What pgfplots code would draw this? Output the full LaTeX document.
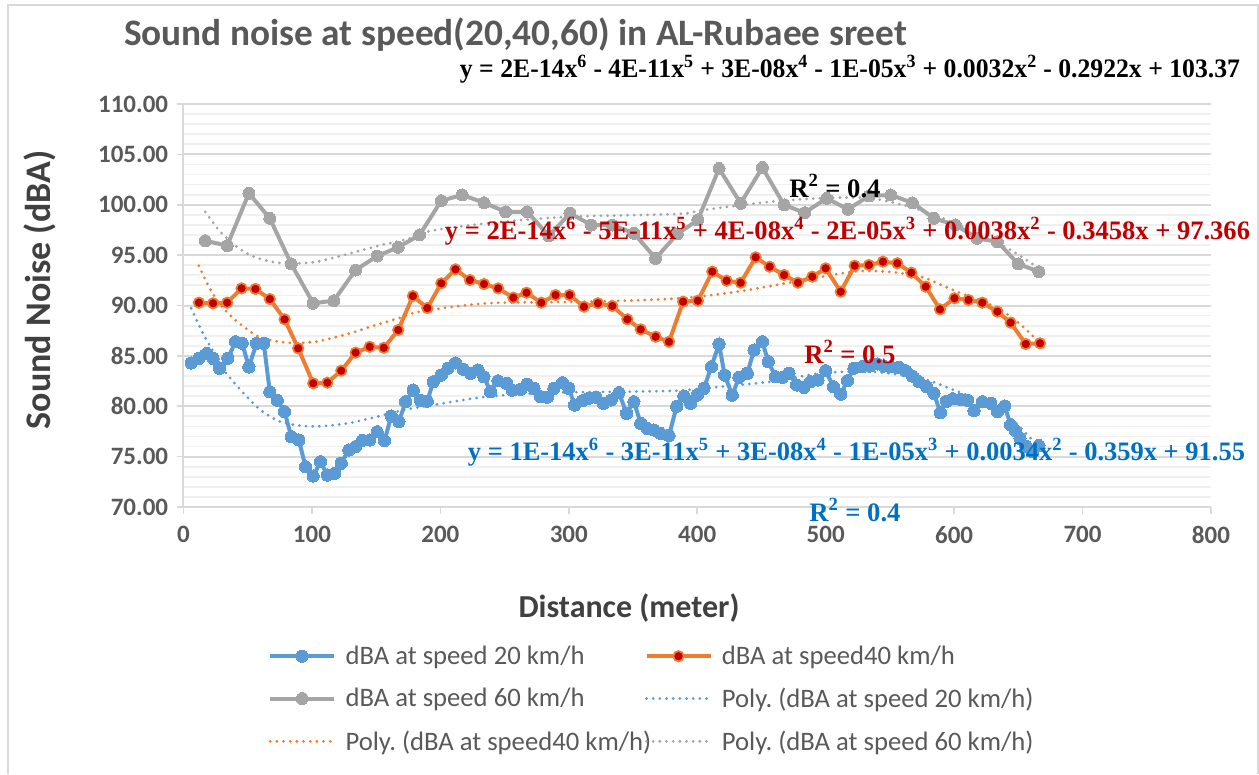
\documentclass[border=0pt]{standalone}
\usepackage{pgfplots}
\pgfplotsset{compat=1.18}
\usepackage{fontspec}
\usepackage{graphicx}
\setmainfont{Carlito}
\newfontfamily\eqfont{Liberation Serif}
\frenchspacing

\definecolor{sblue}{HTML}{5B9BD5}
\definecolor{sorange}{HTML}{ED7D31}
\definecolor{sgray}{HTML}{A5A5A5}
\definecolor{dred}{HTML}{C00000}
\definecolor{eqblue}{HTML}{0070C0}
\definecolor{txtgray}{HTML}{595959}
\definecolor{lblgray}{HTML}{404040}
\definecolor{gridmaj}{HTML}{D9D9D9}
\definecolor{gridmin}{HTML}{F0F0F0}

\pgfplotstableread{
x y
6 84.3
12 84.76
18 85.25
23 84.76
28 83.77
34.5 84.76
40.5 86.4
45.7 86.25
50.9 83.9
56.9 86.25
62.5 86.25
67.2 81.44
73 80.6
78.7 79.46
83.9 76.98
89.8 76.65
95 74
101 73.08
106.7 74.5
112 73.17
117.6 73.34
122.8 74.34
128.7 75.66
134 75.99
139.2 76.6
145 76.65
150.8 77.47
156.5 76.6
161.8 79.03
167.7 78.47
172.9 80.45
178.9 81.6
184.6 80.6
189.8 80.5
194.5 82.44
200.7 83.1
205.9 83.77
211.8 84.3
217.8 83.67
223.5 83.27
229.2 83.6
233.9 82.93
239 81.44
244.8 82.53
251.6 82.28
256 81.6
262.5 81.68
267.7 82.18
272.8 81.78
278 80.95
283.3 80.9
288.4 81.78
295 82.34
300 81.78
304.5 80.12
310.5 80.55
315.7 80.8
321 80.9
326.9 80.3
333 80.62
339 81.35
345 79.3
350.7 80.45
356 78.3
361.1 77.8
366.3 77.64
371.5 77.3
378 77.1
384 80.0
389.6 81.02
394.9 80.3
400 81.1
405.2 81.78
411 83.93
417 86.18
421.3 83.1
427.3 81.1
432.5 82.87
439 83.27
444.2 85.58
450.7 86.4
455.3 84.42
461 82.93
466.3 82.87
471.4 83.27
477.4 82.11
483.1 81.88
488.3 82.44
494 82.6
500 83.53
506 81.94
511.7 81.2
516.9 82.54
522 83.77
528.5 83.93
534.5 84
540.3 84.2
545.4 84
550.6 83.93
557 83.86
562.3 83.53
567.5 83
572.6 82.44
578.7 81.94
584.3 81.28
589.3 79.36
594 80.5
599 80.75
605 80.7
610.5 80.6
615.5 79.56
622 80.45
628.5 80.3
633.7 79.47
639.4 80.03
644 78.14
647.8 77.6
651.3 76.82
655.8 76.05
661 75.5
666 76.1
}\speedA

\pgfplotstableread{
x y
12 90.28
23 90.22
34 90.28
45.2 91.7
56 91.64
67.2 90.64
78.7 88.63
89.3 85.75
101 82.28
112 82.34
122.8 83.53
134 85.32
145 85.9
156 85.8
167.2 87.57
178.6 90.94
189.8 89.75
200.7 92.2
211.8 93.59
223 92.53
234 92.13
245 91.7
256.8 90.78
267.1 91.27
278.6 90.28
289.7 91.04
300.6 91.04
311.8 89.88
322.7 90.22
333.9 89.95
345.6 88.63
356 87.63
367.6 86.9
378 86.4
389 90.38
400.5 90.48
411.7 93.36
422.9 92.46
433.8 92.26
445.5 94.78
456.4 93.85
467.6 93.03
478.4 92.26
489.6 92.86
500 93.69
511.7 91.37
522.6 93.95
533.7 94.02
544.6 94.35
555.8 94.19
566.7 93.26
577.9 91.87
589 89.62
600.3 90.72
611.2 90.55
622 90.28
633.7 89.39
644 88.3
655.8 86.18
666.9 86.25
}\speedB

\pgfplotstableread{
x y
17 96.43
34 95.94
50.9 101.14
67.2 98.65
83.9 94.12
101 90.22
117 90.48
134 93.52
150.8 94.91
167.2 95.78
183.8 97
200.7 100.4
217 100.97
234 100.2
250.8 99.3
267.7 99.3
284.5 96.9
300.9 99.15
317.5 97.99
333.9 97.99
350.7 97.17
367.6 94.68
384.5 97.1
400.5 98.49
417 103.6
433.8 100.14
450.7 103.7
467.6 99.98
483.6 99.21
500.8 100.64
517.4 99.55
533.7 100.87
550.6 100.97
567.5 100.2
584.3 98.65
601 98
618 96.67
633.7 96.33
650 94.12
666 93.36
}\speedC

% trendlines
\pgfplotstableread{
x y
6 89.72
14.5 87.4
21 85.9
31.4 83.6
45.7 81.44
60 79.63
75.5 78.47
93.7 78.04
109 78.04
127.5 78.3
145.6 78.8
171.6 79.63
189.8 80.03
236.5 80.95
288.4 81.35
340.3 81.44
387 81.55
405 81.78
457 82.44
496 83.27
535 83.43
574 82.77
600 81.6
620 80.6
640 79.3
662 76.5
}\trendA

\pgfplotstableread{
x y
12 93.95
19.7 91.87
28.8 90.05
41.8 88.4
57.4 86.97
67.7 86.57
80.7 86.3
93.7 86.3
106.7 86.5
119.7 86.9
132.6 87.34
145.6 87.9
158.6 88.4
171.6 88.9
184.6 89.4
236.5 90.22
314 90.38
384.5 90.7
431 91.37
483 92.53
522 93.36
548 93.36
574 92.86
592 91.93
607.7 91.1
633 89.8
650 88.3
666 86.4
}\trendB

\pgfplotstableread{
x y
17 99.29
28.8 97.3
43.1 95.68
56.1 94.78
73 94.25
88.5 94.18
104 94.35
124.8 95
150.8 95.9
176.7 96.67
192.4 97.4
236.5 98.16
298.8 98.8
384.5 99.08
405 99.48
457 100.3
496 100.64
535 100.64
574 99.48
607.7 97.76
640 95.8
666 93.7
}\trendC

\begin{document}
\begin{tikzpicture}
\begin{axis}[
  scale only axis,
  width=770.6pt, height=302.25pt,
  xmin=0, xmax=800, ymin=70, ymax=110,
  xtick={0,100,...,800},
  ytick={70,75,...,110},
  minor y tick num=4,
  ymajorgrids, yminorgrids,
  major grid style={draw=gridmaj, line width=1.5pt},
  minor grid style={draw=gridmin, line width=1.3pt},
  axis x line*=bottom, axis y line*=left,
  axis line style={draw=gridmaj, line width=1.5pt},
  tick align=outside,
  major tick length=5pt,
  minor tick length=0pt,
  tick style={draw=gridmaj, line width=1.2pt},
  /pgf/number format/assume math mode=true,
  ticklabel style={font=\fontsize{18.75}{20}\selectfont\bfseries, text=txtgray},
  yticklabel style={xshift=-3pt, /pgf/number format/.cd, fixed, fixed zerofill, precision=2},
  xticklabel style={yshift=-6pt},
  legend columns=2,
  legend cell align=left,
  legend style={at={(0.0822,-0.3375)}, anchor=north west, draw=none, fill=none,
    inner sep=0pt, row sep=12pt,
    nodes={inner xsep=0pt},
    font=\fontsize{20}{22}\selectfont, text=txtgray,
    /tikz/every odd column/.append style={column sep=7pt},
    /tikz/every even column/.append style={column sep=-5pt}},
  legend image code/.code={\draw[mark repeat=2,mark phase=2,#1] plot coordinates {(0pt,0pt) (24pt,0pt) (48pt,0pt)};},
]
\addplot[sblue, line width=3pt, mark=*, mark size=4.6pt, mark options={fill=sblue, draw=sblue, line width=0pt}] table {\speedA};
\addlegendentry{dBA at speed 20 km/h}
\addplot[sorange, line width=3pt, mark=*, mark size=3.9pt, mark options={fill=dred, draw=sorange, line width=1.3pt}] table {\speedB};
\addlegendentry{dBA at speed40 km/h}
\addplot[sgray, line width=3pt, mark=*, mark size=4.5pt, mark options={fill=sgray, draw=sgray, line width=0pt}] table {\speedC};
\addlegendentry{dBA at speed 60 km/h}
\addplot[sblue, smooth, line width=2.3pt, line cap=round, dash pattern=on 0pt off 5pt] table {\trendA};
\addlegendentry{Poly. (dBA at speed 20 km/h)}
\addplot[sorange, smooth, line width=2.3pt, line cap=round, dash pattern=on 0pt off 5pt] table {\trendB};
\addlegendentry{Poly. (dBA at speed40 km/h)}
\addplot[sgray, smooth, line width=2.3pt, line cap=round, dash pattern=on 0pt off 5pt] table {\trendC};
\addlegendentry{Poly. (dBA at speed 60 km/h)}
\end{axis}

\begin{scope}[x=0.75pt, y=-0.75pt, shift={(-137.625pt,380.25pt)}]
  \useasboundingbox (0,0) rectangle (1259,774);
  \draw[gridmaj, line width=1.5pt] (8,774) -- (8,5) -- (1258,5) -- (1258,774);
  \node[font=\fontsize{28}{30}\selectfont\bfseries, text=txtgray, inner sep=0pt] at (515.5,34.5)
    {Sound noise at speed(20,40,60) in AL-Rubaee sreet};
  \node[font=\fontsize{27}{29}\selectfont\bfseries, text=lblgray, rotate=90] at (40,290)
    {Sound Noise (dBA)};
  \node[font=\fontsize{24}{26}\selectfont\bfseries, text=lblgray] at (629,608)
    {Distance (meter)};
  % trendline equations
  \node[text=black, inner sep=0pt] at (850,69.5) {\resizebox{585pt}{\height}{\eqfont\bfseries\fontsize{20}{22}\selectfont
    y = 2E-14x\textsuperscript{6} - 4E-11x\textsuperscript{5} + 3E-08x\textsuperscript{4} - 1E-05x\textsuperscript{3} + 0.0032x\textsuperscript{2} - 0.2922x + 103.37}};
  \node[text=black, font=\eqfont\bfseries\fontsize{20}{22}\selectfont] at (835,186) {R\textsuperscript{2} = 0.4};
  \node[text=dred, inner sep=0pt] at (847.5,231) {\resizebox{603.75pt}{\height}{\eqfont\bfseries\fontsize{20}{22}\selectfont
    y = 2E-14x\textsuperscript{6} - 5E-11x\textsuperscript{5} + 4E-08x\textsuperscript{4} - 2E-05x\textsuperscript{3} + 0.0038x\textsuperscript{2} - 0.3458x + 97.366}};
  \node[text=dred, font=\eqfont\bfseries\fontsize{20}{22}\selectfont] at (850,352) {R\textsuperscript{2} = 0.5};
  \node[text=eqblue, inner sep=0pt] at (856.5,452) {\resizebox{582.75pt}{\height}{\eqfont\bfseries\fontsize{20}{22}\selectfont
    y = 1E-14x\textsuperscript{6} - 3E-11x\textsuperscript{5} + 3E-08x\textsuperscript{4} - 1E-05x\textsuperscript{3} + 0.0034x\textsuperscript{2} - 0.359x + 91.55}};
  \node[text=eqblue, font=\eqfont\bfseries\fontsize{20}{22}\selectfont, inner sep=1pt] at (855,510) {R\textsuperscript{2} = 0.4};
\end{scope}
\end{tikzpicture}
\end{document}
